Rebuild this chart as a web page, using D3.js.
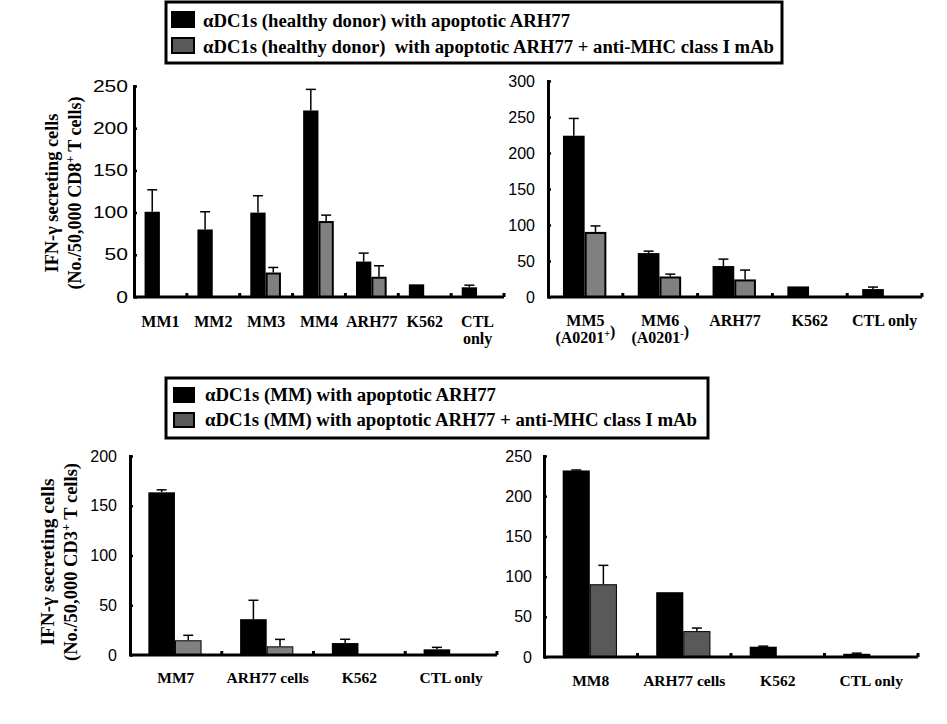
<!DOCTYPE html>
<html>
<head>
<meta charset="utf-8">
<script src="https://cdn.jsdelivr.net/npm/d3@7"></script>
<style>
  html, body { margin: 0; padding: 0; background: #fff; }
  svg { display: block; }
  .lbl { font-family: "Liberation Serif", "Times New Roman", serif; font-weight: bold; fill: #000; }
  .tick text { font-family: "Liberation Sans", Arial, sans-serif; fill: #000; }
</style>
</head>
<body>
<svg id="chart" width="947" height="724"></svg>
<script>
// ---------------- DATA ----------------
const legendTop = ["αDC1s (healthy donor) with apoptotic ARH77",
                   "αDC1s (healthy donor)  with apoptotic ARH77 + anti-MHC class I mAb"];
const legendBottom = ["αDC1s (MM) with apoptotic ARH77",
                      "αDC1s (MM) with apoptotic ARH77 + anti-MHC class I mAb"];

const cats1 = ["MM1", "MM2", "MM3", "MM4", "ARH77", "K562", "CTL only"];
const p1Black = [101, 80, 100, 221, 42, 15, 11.5];
const p1BlackErr = [26, 21, 20, 25, 10, 0, 2.5];
const p1Gray = [0, 0, 29, 90, 24, 0, 0];
const p1GrayErr = [0, 0, 6, 7, 13, 0, 0];
const ticks1 = [0, 50, 100, 150, 200, 250];

const cats2 = ["MM5 (A0201+)", "MM6 (A0201-)", "ARH77", "K562", "CTL only"];
const p2Black = [224, 61, 43, 14.7, 11];
const p2BlackErr = [24, 2.7, 9.6, 0, 2.8];
const p2Gray = [90.4, 28.5, 24.4, 0, 0];
const p2GrayErr = [8.3, 3.3, 13, 0, 0];
const ticks2 = [0, 50, 100, 150, 200, 250, 300];

const cats3 = ["MM7", "ARH77 cells", "K562", "CTL only"];
const p3Black = [163.5, 36, 12, 5.7];
const p3BlackErr = [2.5, 19, 3.8, 2];
const p3Gray = [14.8, 8.7, 0, 0];
const p3GrayErr = [5, 7, 0, 0];
const ticks3 = [0, 50, 100, 150, 200];

const cats4 = ["MM8", "ARH77 cells", "K562", "CTL only"];
const p4Black = [232, 80.6, 12.8, 4];
const p4BlackErr = [0.6, 0, 0.7, 0.8];
const p4Gray = [90.5, 32.2, 0, 0];
const p4GrayErr = [23.5, 3.8, 0, 0];
const ticks4 = [0, 50, 100, 150, 200, 250];

// label line splitting for display
const catLines = {
  "MM5 (A0201+)": [["MM5"], ["(A0201", ["+"], ")"]],
  "MM6 (A0201-)": [["MM6"], ["(A0201", ["-"], ")"]]
};

// ---------------- DRAW ----------------
const svg = d3.select("#chart");

function legend(labels, box, sw, gap, grayFill) {
  const g = svg.append("g");
  g.append("rect").attr("x", box.x).attr("y", box.y).attr("width", box.w).attr("height", box.h)
    .attr("fill", "#fff").attr("stroke", "#000").attr("stroke-width", 3);
  g.append("rect").attr("x", sw.x).attr("y", sw.y).attr("width", sw.w).attr("height", sw.h).attr("fill", "#000");
  g.append("rect").attr("x", sw.x + 1).attr("y", sw.y + gap + 1).attr("width", sw.w - 2).attr("height", sw.h - 2)
    .attr("fill", grayFill).attr("stroke", "#000").attr("stroke-width", 2);
  labels.forEach((t, i) => {
    g.append("text").attr("class", "lbl").attr("x", sw.tx).attr("y", sw.ty + i * sw.dy)
      .attr("textLength", sw.lens[i]).attr("lengthAdjust", "spacingAndGlyphs")
      .style("font-size", sw.fs + "px").style("white-space", "pre").text(t);
  });
}

legend(legendTop, {x: 166, y: 2, w: 616, h: 61},
       {x: 171, y: 11, w: 24, h: 17, tx: 203, ty: 27, dy: 25.5, fs: 18.5, lens: [367, 571]}, 26, "#595959");
legend(legendBottom, {x: 166, y: 378, w: 542, h: 60},
       {x: 173, y: 387, w: 22, h: 16, tx: 205, ty: 400.5, dy: 25, fs: 18.5, lens: [291, 492]}, 25, "#595959");

function panel(cfg) {
  const g = svg.append("g");
  const x = d3.scaleBand().domain(cfg.cats).range([cfg.x0, cfg.x1]).padding(0);
  const bw = x.bandwidth();
  const xs = d3.scaleBand().domain(["b", "g"]).range([bw * 0.2, bw * 0.2 + 2 * bw * 0.29]).padding(0);
  const y = d3.scaleLinear().domain([0, cfg.max]).range([cfg.y0, cfg.yTop]);

  const series = [
    {key: "b", vals: cfg.black, errs: cfg.blackErr, fill: "#000", sw: 0},
    {key: "g", vals: cfg.gray, errs: cfg.grayErr, fill: cfg.grayFill, sw: cfg.grayStroke}
  ];
  series.forEach(s => {
    cfg.cats.forEach((c, i) => {
      const v = s.vals[i];
      if (v <= 0) return;
      const bx = x(c) + xs(s.key);
      const cx = bx + xs.bandwidth() / 2;
      const e = s.errs[i];
      if (e > 0) {
        g.append("line").attr("x1", cx).attr("x2", cx).attr("y1", y(v)).attr("y2", y(v + e))
          .attr("stroke", "#000").attr("stroke-width", 1.5);
        g.append("line").attr("x1", cx - 5).attr("x2", cx + 5).attr("y1", y(v + e)).attr("y2", y(v + e))
          .attr("stroke", "#000").attr("stroke-width", 1.5);
      }
      const r = g.append("rect").attr("x", bx).attr("y", y(v)).attr("width", xs.bandwidth())
        .attr("height", cfg.y0 - y(v)).attr("fill", s.fill);
      if (s.sw > 0) {
        r.attr("x", bx + s.sw / 2).attr("width", xs.bandwidth() - s.sw)
         .attr("y", y(v) + s.sw / 2).attr("height", cfg.y0 - y(v) - s.sw / 2)
         .attr("stroke", "#000").attr("stroke-width", s.sw);
      }
    });
  });

  // y axis
  const ax = d3.axisLeft(y).tickValues(cfg.ticks).tickSize(-3).tickSizeOuter(0).tickPadding(cfg.tickPad);
  const ag = g.append("g").attr("transform", `translate(${cfg.x0},0)`).call(ax);
  ag.select(".domain").attr("stroke-width", 3).attr("d", `M0.5,${cfg.y0}V${cfg.yTop - 1}`);
  ag.selectAll(".tick line").attr("stroke-width", 2.5);
  ag.selectAll(".tick text").style("font-size", "16px");
  if (cfg.tickLen) {
    ag.selectAll(".tick text")
      .attr("textLength", d => String(d).length * cfg.tickLen)
      .attr("lengthAdjust", "spacingAndGlyphs");
  }

  // x axis line and category boundary marks
  g.append("line").attr("x1", cfg.x0 - 1).attr("x2", cfg.x1).attr("y1", cfg.y0).attr("y2", cfg.y0)
    .attr("stroke", "#000").attr("stroke-width", 3);
  const marks = cfg.cats.slice(1).map(c => x(c)).concat([x.range()[1]]);
  g.selectAll(null).data(marks).enter().append("rect")
    .attr("x", d => d - 1.5).attr("y", cfg.y0 - 4).attr("width", 3).attr("height", 4).attr("fill", "#000");

  // category labels
  cfg.cats.forEach(c => {
    const cx = x(c) + bw / 2;
    let lines;
    if (c === "CTL only" && cfg.splitCTL) lines = [["CTL"], ["only"]];
    else if (catLines[c]) lines = catLines[c];
    else lines = [[c]];
    lines.forEach((ln, li) => {
      const t = g.append("text").attr("class", "lbl").attr("text-anchor", "middle")
        .attr("x", cx).attr("y", cfg.labY + li * 17).style("font-size", cfg.labFs + "px");
      ln.forEach(part => {
        if (Array.isArray(part)) {
          t.append("tspan").attr("dy", -6).style("font-size", "10px").text(part[0]);
          t.append("tspan").attr("dy", 6).text("");
        } else {
          t.append("tspan").text(part);
        }
      });
    });
  });

  // y axis title
  if (cfg.title) {
    const tg = g.append("g").attr("transform", `translate(0,${cfg.titleY}) rotate(-90)`);
    tg.append("text").attr("class", "lbl").attr("text-anchor", "middle").attr("x", 0).attr("y", cfg.titleX1)
      .attr("textLength", cfg.titleLens[0]).attr("lengthAdjust", "spacingAndGlyphs")
      .style("font-size", cfg.titleFs + "px").text("IFN-γ secreting cells");
    const t2 = tg.append("text").attr("class", "lbl").attr("text-anchor", "middle").attr("x", 0).attr("y", cfg.titleX2)
      .attr("textLength", cfg.titleLens[1]).attr("lengthAdjust", "spacingAndGlyphs")
      .style("font-size", cfg.titleFs + "px");
    t2.append("tspan").text("(No./50,000 " + cfg.title);
    t2.append("tspan").attr("dy", -7).style("font-size", "12px").text("+");
    t2.append("tspan").attr("dy", 7).text(" T cells)");
  }
}

panel({cats: cats1, black: p1Black, blackErr: p1BlackErr, gray: p1Gray, grayErr: p1GrayErr,
       ticks: ticks1, max: 250, x0: 134, x1: 504, y0: 297, yTop: 86, tickLen: 11.7,
       grayFill: "#808080", grayStroke: 2, tickPad: 6, labY: 327, labFs: 16, splitCTL: true,
       title: "CD8", titleY: 193, titleX1: 58, titleX2: 81, titleFs: 18, titleLens: [159, 193]});
panel({cats: cats2, black: p2Black, blackErr: p2BlackErr, gray: p2Gray, grayErr: p2GrayErr,
       ticks: ticks2, max: 300, x0: 548, x1: 922, y0: 297, yTop: 81,
       grayFill: "#808080", grayStroke: 2, tickPad: 13, labY: 326, labFs: 16, splitCTL: false});
panel({cats: cats3, black: p3Black, blackErr: p3BlackErr, gray: p3Gray, grayErr: p3GrayErr,
       ticks: ticks3, max: 200, x0: 130, x1: 497, y0: 655, yTop: 456,
       grayFill: "#808080", grayStroke: 1, tickPad: 13, labY: 683, labFs: 15.5, splitCTL: false,
       title: "CD3", titleY: 562, titleX1: 54, titleX2: 77, titleFs: 18, titleLens: [167, 198]});
panel({cats: cats4, black: p4Black, blackErr: p4BlackErr, gray: p4Gray, grayErr: p4GrayErr,
       ticks: ticks4, max: 250, x0: 544, x1: 918, y0: 657, yTop: 456,
       grayFill: "#595959", grayStroke: 1, tickPad: 12, labY: 686, labFs: 15.5, splitCTL: false});
</script>
</body>
</html>
